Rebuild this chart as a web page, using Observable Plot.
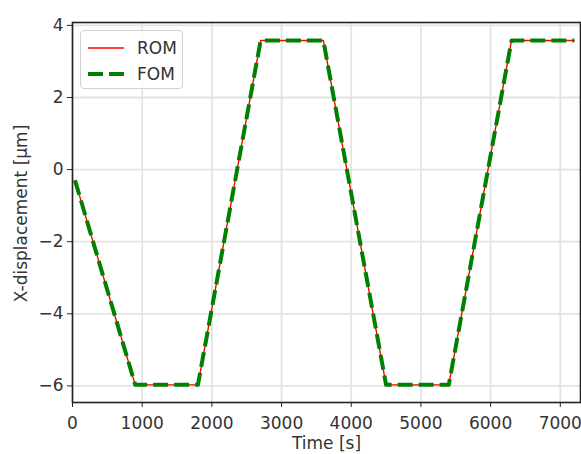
<!DOCTYPE html>
<html>
<head>
<meta charset="utf-8">
<script src="https://cdn.jsdelivr.net/npm/d3@7"></script>
<script src="https://cdn.jsdelivr.net/npm/@observablehq/plot@0.6"></script>
<style>
  html, body { margin: 0; padding: 0; background: #fff; }
  #wrap { position: relative; width: 581px; height: 454px; font-family: "DejaVu Sans", sans-serif; }
  #legend {
    position: absolute; left: 80px; top: 30px; width: 101px; height: 57px;
    border: 1px solid #d0d0d0; border-radius: 4px; background: rgba(255,255,255,0.85);
    font-size: 17px; color: #333;
  }
  #legend .row { position: absolute; left: 0; height: 20px; }
  #legend svg { position: absolute; left: 6px; top: 0; }
  #legend span { position: absolute; left: 56px; top: 0; white-space: nowrap; line-height: 20px; }
</style>
</head>
<body>
<div id="wrap"></div>
<script>
// Data
const times = [36, 900, 1800, 2700, 3600, 4500, 5400, 6300, 7200];
const romValues = [-0.3, -5.97, -5.97, 3.58, 3.58, -5.97, -5.97, 3.58, 3.58];
const fomValues = [-0.3, -5.97, -5.97, 3.58, 3.58, -5.97, -5.97, 3.58, 3.58];
const xTicks = [0, 1000, 2000, 3000, 4000, 5000, 6000, 7000];
const yTicks = [-6, -4, -2, 0, 2, 4];
const seriesNames = ["ROM", "FOM"];

const rom = times.map((t, i) => ({t, v: romValues[i]}));
const fom = times.map((t, i) => ({t, v: fomValues[i]}));
const fmt = d => (d < 0 ? "\u2212" + Math.abs(d) : String(d));

const chart = Plot.plot({
  width: 581,
  height: 454,
  marginLeft: 72,
  marginRight: 1,
  marginTop: 22,
  marginBottom: 52,
  style: {fontFamily: "DejaVu Sans, sans-serif", fontSize: "17px", background: "transparent", color: "#333"},
  x: {domain: [0, 7290], label: null},
  y: {domain: [-6.46, 4.08], label: null},
  marks: [
    Plot.gridX(xTicks, {stroke: "#e3e3e3", strokeOpacity: 1, strokeWidth: 1.8}),
    Plot.gridY(yTicks, {stroke: "#e3e3e3", strokeOpacity: 1, strokeWidth: 1.8}),
    Plot.line(rom, {x: "t", y: "v", stroke: "red", strokeWidth: 1.4}),
    Plot.line(fom, {x: "t", y: "v", stroke: "green", strokeWidth: 4, strokeDasharray: "15,6", strokeLinecap: "butt"}),
    Plot.frame({stroke: "#222", strokeWidth: 1.6}),
    Plot.axisX(xTicks, {tickSize: 5, tickPadding: 9.5, tickFormat: fmt, fontSize: 17, label: null, stroke: "#222", fill: "#333"}),
    Plot.axisY(yTicks, {tickSize: 5, tickPadding: 4, tickFormat: fmt, fontSize: 17, label: null, stroke: "#222", fill: "#333"}),
    Plot.text(["Time [s]"], {frameAnchor: "bottom", textAnchor: "middle", dy: 46, fontSize: 17, fill: "#333"}),
    Plot.text(["X-displacement [\u03bcm]"], {frameAnchor: "left", textAnchor: "middle", dx: -51, dy: 1, rotate: -90, fontSize: 17, fill: "#333"})
  ]
});

const wrap = document.getElementById("wrap");
wrap.appendChild(chart);

// Legend overlay
const legend = document.createElement("div");
legend.id = "legend";
legend.innerHTML = `
  <div class="row" style="top:7px;width:100%">
    <svg width="38" height="20"><line x1="1" x2="37" y1="10" y2="10" stroke="red" stroke-width="1.4"/></svg>
    <span>${seriesNames[0]}</span>
  </div>
  <div class="row" style="top:33px;width:100%">
    <svg width="38" height="20"><line x1="1" x2="37" y1="10" y2="10" stroke="green" stroke-width="4" stroke-dasharray="15,6"/></svg>
    <span>${seriesNames[1]}</span>
  </div>`;
wrap.appendChild(legend);
</script>
</body>
</html>
